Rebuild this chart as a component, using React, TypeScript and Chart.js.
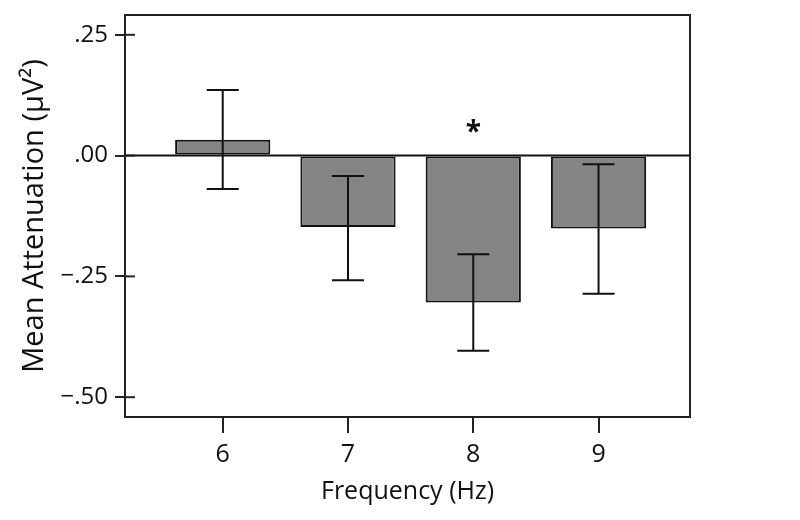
import React, { useEffect, useRef } from "react";
import { Chart, registerables } from "chart.js";

Chart.register(...registerables);

const categories = [6, 7, 8, 9];
const means = [0.033, -0.148, -0.304, -0.151];
const errUpper = [0.136, -0.042, -0.204, -0.018];
const errLower = [-0.069, -0.258, -0.404, -0.286];
const yTickValues = [0.25, 0, -0.25, -0.5];
const yTickLabels = [".25", ".00", "\u2212.25", "\u2212.50"];
const sigCategories = [8];
const sigValues = [0.06];

const FONT = "'Open Sans', 'DejaVu Sans', sans-serif";

export default function App() {
  const ref = useRef<HTMLCanvasElement | null>(null);
  useEffect(() => {
    if (!ref.current) return;
    const overlay = {
      id: "overlay",
      afterDatasetsDraw(chart: any) {
        const { ctx, chartArea, scales } = chart;
        const xs = scales.x;
        const ys = scales.y;
        ctx.save();
        ctx.strokeStyle = "#111";
        ctx.lineWidth = 2;
        const y0 = ys.getPixelForValue(0);
        ctx.beginPath();
        ctx.moveTo(chartArea.left, y0);
        ctx.lineTo(chartArea.right, y0);
        ctx.stroke();
        categories.forEach((c, i) => {
          const x = xs.getPixelForValue(c);
          const yt = ys.getPixelForValue(errUpper[i]);
          const yb = ys.getPixelForValue(errLower[i]);
          ctx.beginPath();
          ctx.moveTo(x, yt);
          ctx.lineTo(x, yb);
          ctx.moveTo(x - 16, yt);
          ctx.lineTo(x + 16, yt);
          ctx.moveTo(x - 16, yb);
          ctx.lineTo(x + 16, yb);
          ctx.stroke();
        });
        ctx.fillStyle = "#111";
        ctx.font = `bold 28px ${FONT}`;
        ctx.textAlign = "center";
        ctx.textBaseline = "middle";
        sigCategories.forEach((c, i) => {
          ctx.fillText("*", xs.getPixelForValue(c), ys.getPixelForValue(sigValues[i]) + 6);
        });
        ctx.strokeStyle = "#222";
        ctx.lineWidth = 2;
        ctx.strokeRect(chartArea.left, chartArea.top, chartArea.right - chartArea.left, chartArea.bottom - chartArea.top);
        yTickValues.forEach((v) => {
          const y = ys.getPixelForValue(v);
          ctx.beginPath();
          ctx.moveTo(chartArea.left, y);
          ctx.lineTo(chartArea.left + 10, y);
          ctx.stroke();
        });
        ctx.restore();
      },
    };
    const chart = new Chart(ref.current, {
      type: "bar",
      data: {
        datasets: [
          {
            data: categories.map((c, i) => ({ x: c, y: means[i] })),
            backgroundColor: "#858585",
            borderColor: "#111",
            borderWidth: 2,
            borderSkipped: false,
            barPercentage: 0.76,
            categoryPercentage: 1,
          },
        ],
      },
      options: {
        animation: false,
        responsive: false,
        maintainAspectRatio: false,
        layout: { padding: { top: 15, right: 110, left: 0, bottom: 0 } },
        plugins: { legend: { display: false }, tooltip: { enabled: false } },
        scales: {
          x: {
            type: "linear",
            min: 5.22,
            max: 9.73,
            offset: false,
            afterBuildTicks: (s: any) => {
              s.ticks = categories.map((v) => ({ value: v }));
            },
            afterFit: (s: any) => {
              s.height = 103;
              s.paddingLeft = 0;
              s.paddingRight = 0;
            },
            grid: { display: true, drawOnChartArea: false, tickLength: 16, color: "#222", lineWidth: 2, offset: false },
            border: { display: false },
            ticks: { color: "#111", font: { family: FONT, size: 25 }, padding: 7, maxRotation: 0, autoSkip: false },
            title: { display: true, text: "Frequency (Hz)", color: "#111", font: { family: FONT, size: 25 }, padding: { top: 0, bottom: 13 } },
          },
          y: {
            type: "linear",
            min: -0.541,
            max: 0.291,
            afterBuildTicks: (s: any) => {
              s.ticks = yTickValues.map((v) => ({ value: v }));
            },
            afterFit: (s: any) => {
              s.width = 125;
              s.paddingTop = 0;
              s.paddingBottom = 0;
            },
            grid: { display: true, drawOnChartArea: false, tickLength: 10, color: "#222", lineWidth: 2 },
            border: { display: false },
            ticks: {
              color: "#111",
              font: { family: FONT, size: 24 },
              padding: 7,
              autoSkip: false,
              callback: (v: any) => {
                const i = yTickValues.findIndex((t) => Math.abs(t - Number(v)) < 1e-9);
                return i >= 0 ? yTickLabels[i] : "";
              },
            },
            title: { display: true, text: "Mean Attenuation (\u03bcV\u00b2)", color: "#111", font: { family: FONT, size: 29 }, padding: { top: 17, bottom: 0 } },
          },
        },
      },
      plugins: [overlay],
    } as any);
    return () => chart.destroy();
  }, []);
  return (
    <div style={{ position: "fixed", left: 0, top: 0, width: 800, height: 520, background: "#fff" }}>
      <canvas ref={ref} width={800} height={520} style={{ width: 800, height: 520, display: "block" }} />
    </div>
  );
}
